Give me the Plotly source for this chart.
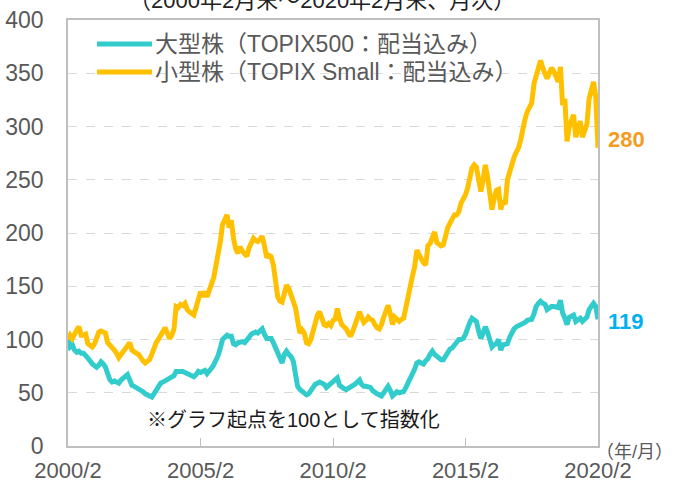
import pandas as pd
import plotly.graph_objects as go

# ---- data (monthly, 2000/2 - 2020/2, index start = 100) ----
months = pd.date_range("2000-02-01", periods=241, freq="MS")

large_name = "大型株（TOPIX500：配当込み）"
small_name = "小型株（TOPIX Small：配当込み）"

large_cap = [
    100, 93, 95, 90, 88, 89, 87, 87, 85, 83, 80, 77, 76, 74, 76, 79, 77, 74, 68, 62,
    60, 61, 60, 59, 62, 64, 65, 67, 62, 57, 56, 55, 53, 52, 51, 49, 48, 47, 46, 49,
    53, 56, 59, 60, 61, 62, 63, 64, 66, 70, 70, 71, 70, 69, 68, 67, 66, 65, 67, 70,
    69, 70, 71, 68, 70, 73, 76, 80, 85, 92, 100, 102, 104, 103, 103, 96, 95, 97, 98, 98,
    97, 99, 102, 105, 106, 107, 106, 108, 110, 105, 101, 101, 101, 97, 92, 86, 80, 78, 86, 89,
    86, 84, 80, 70, 56, 53, 51, 50, 48, 49, 52, 56, 58, 59, 60, 59, 58, 55, 57, 59,
    61, 62, 64, 57, 55, 54, 53, 54, 55, 56, 58, 60, 62, 58, 56, 56, 56, 55, 52, 50,
    49, 48, 47, 50, 54, 56, 52, 47, 49, 51, 50, 51, 51, 55, 59, 63, 67, 72, 78, 79,
    78, 77, 80, 82, 86, 89, 86, 84, 82, 81, 81, 85, 89, 91, 92, 95, 98, 100, 100, 101,
    105, 112, 116, 120, 118, 117, 108, 101, 106, 112, 107, 100, 93, 95, 96, 100, 90, 95, 95, 96,
    102, 107, 110, 112, 113, 113, 114, 116, 118, 118, 119, 124, 131, 134, 136, 134, 133, 128, 130, 131,
    131, 130, 130, 137, 125, 120, 114, 121, 122, 123, 117, 119, 120, 117, 119, 121, 128, 132, 134, 131,
    119,
]

small_cap = [
    100, 104, 101, 106, 109, 112, 104, 104, 105, 96, 94, 93, 96, 101, 107, 108, 107, 106, 97, 95,
    92, 90, 87, 83, 86, 89, 91, 95, 97, 90, 88, 87, 86, 82, 80, 78, 80, 81, 86, 92,
    97, 100, 104, 107, 111, 106, 101, 104, 110, 131, 130, 133, 132, 134, 128, 126, 124, 123, 130, 139,
    145, 140, 145, 140, 145, 152, 158, 168, 178, 192, 208, 212, 217, 205, 212, 195, 185, 181, 187, 183,
    180, 178, 186, 190, 195, 193, 192, 194, 197, 188, 177, 179, 178, 170, 150, 140, 136, 135, 143, 151,
    148, 143, 138, 130, 118, 106, 109, 106, 97, 96, 100, 107, 118, 123, 126, 120, 114, 113, 115, 113,
    118, 119, 129, 120, 114, 112, 110, 106, 103, 108, 114, 120, 126, 121, 116, 118, 121, 119, 118, 114,
    111, 110, 114, 121, 127, 132, 124, 114, 121, 118, 117, 119, 120, 130, 141, 153, 160, 168, 184, 180,
    175, 172, 170, 188, 190, 195, 201, 191, 190, 188, 189, 199, 205, 209, 213, 217, 217, 220, 228, 231,
    236, 242, 252, 261, 264, 262, 250, 239, 250, 264, 253, 240, 222, 232, 240, 241, 222, 230, 227, 250,
    258, 263, 271, 276, 280, 287, 300, 307, 314, 318, 322, 340, 348, 355, 362, 355, 350, 345, 350, 355,
    352, 348, 342, 356, 320, 326, 286, 300, 308, 311, 290, 300, 305, 290, 298, 302, 326, 335, 342, 328,
    280,
]

x_tick_dates = ["2000-02-01", "2005-02-01", "2010-02-01", "2015-02-01", "2020-02-01"]
x_tick_labels = ["2000/2", "2005/2", "2010/2", "2015/2", "2020/2"]
y_ticks = [0, 50, 100, 150, 200, 250, 300, 350, 400]

title_text = "（2000年2月末～2020年2月末、月次）"
note_text = "※グラフ起点を100として指数化"
unit_text = "（年/月）"

TEAL = "#33CCCC"
GOLD = "#FFC000"
FONT = "Arial, 'Liberation Sans', 'Noto Sans CJK JP', sans-serif"
GRAY_TXT = "#595959"
FRAME = "#BFBFBF"

fig = go.Figure()
fig.add_trace(go.Scatter(x=months, y=large_cap, mode="lines", name=large_name,
                         line=dict(color=TEAL, width=5), showlegend=False))
fig.add_trace(go.Scatter(x=months, y=small_cap, mode="lines", name=small_name,
                         line=dict(color=GOLD, width=5), showlegend=False))

W, H = 673, 484
L, R, T, B = 68, 75, 20, 38
pw, ph = W - L - R, H - T - B


def px(xp):
    return (xp - L) / pw


def py(yp):
    return (H - B - yp) / ph


# custom legend (long line samples as in the reference)
for name, color, ypix in [(large_name, TEAL, 44), (small_name, GOLD, 72)]:
    fig.add_shape(type="line", xref="paper", yref="paper",
                  x0=px(97), x1=px(152), y0=py(ypix), y1=py(ypix),
                  line=dict(color=color, width=5))
    fig.add_annotation(xref="paper", yref="paper", x=px(153), y=py(ypix),
                       text=name, showarrow=False, xanchor="left", yanchor="middle",
                       font=dict(size=23, color=GRAY_TXT, family=FONT))

# end-value labels
fig.add_annotation(x=months[-1], y=small_cap[-1], text=f"<b>{small_cap[-1]}</b>",
                   showarrow=False, xanchor="left", yanchor="middle", xshift=8, yshift=8,
                   font=dict(size=22, color="#F39C1F", family=FONT))
fig.add_annotation(x=months[-1], y=large_cap[-1], text=f"<b>{large_cap[-1]}</b>",
                   showarrow=False, xanchor="left", yanchor="middle", xshift=8, yshift=-2,
                   font=dict(size=22, color="#00B0F0", family=FONT))

# note, unit, (cut-off) subtitle
fig.add_annotation(xref="paper", yref="paper", x=px(145), y=py(420), text=note_text,
                   showarrow=False, xanchor="left", yanchor="middle",
                   font=dict(size=20, color="#1A1A1A", family=FONT))
fig.add_annotation(xref="paper", yref="paper", x=px(594), y=py(452), text=unit_text,
                   showarrow=False, xanchor="left", yanchor="middle",
                   font=dict(size=18, color=GRAY_TXT, family=FONT))
fig.add_annotation(xref="paper", yref="paper", x=px(322), y=py(1), text=title_text,
                   showarrow=False, xanchor="center", yanchor="middle",
                   font=dict(size=22, color="#222222", family=FONT))

fig.update_layout(
    width=W, height=H,
    margin=dict(l=L, r=R, t=T, b=B, autoexpand=False),
    paper_bgcolor="white", plot_bgcolor="white",
    font=dict(family=FONT, color=GRAY_TXT, size=23),
    showlegend=False,
)
fig.update_xaxes(
    range=[months[0], months[-1]], tickvals=x_tick_dates, ticktext=x_tick_labels,
    showgrid=False, showline=True, mirror=True, linecolor=FRAME, linewidth=1.5,
    ticks="inside", ticklen=8, tickcolor=FRAME, tickwidth=1,
    ticklabelstandoff=4, tickfont=dict(size=22, color=GRAY_TXT),
)
fig.update_yaxes(
    range=[0, 400], tickvals=y_ticks,
    showgrid=True, gridcolor="#D9D9D9", griddash="dash", gridwidth=1, zeroline=False,
    showline=True, mirror=True, linecolor=FRAME, linewidth=1.5,
    ticks="", ticklabelstandoff=18, tickfont=dict(size=23, color=GRAY_TXT),
)

fig.write_html(
    "out.html",
    config={"displayModeBar": False},
    post_script="document.body.style.margin='0';document.body.style.overflow='hidden';",
)
